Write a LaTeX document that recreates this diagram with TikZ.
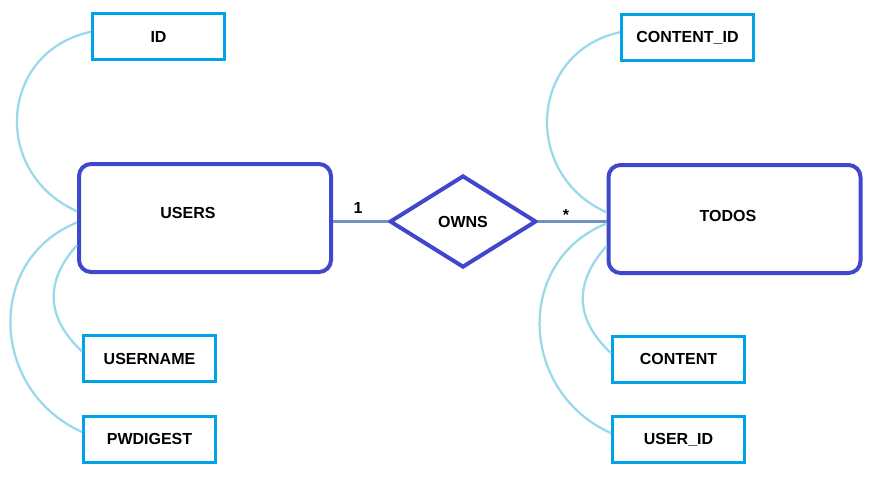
\documentclass[tikz,border=0pt]{standalone}
\usepackage{fontspec}
\setmainfont{Liberation Sans}
\usepackage{xcolor}
\definecolor{Col1}{RGB}{63,72,204}
\definecolor{Col2}{RGB}{0,162,232}
\definecolor{Col3}{RGB}{153,217,234}
\definecolor{Col4}{RGB}{112,146,190}
\usepackage{tikz}
\usetikzlibrary{shapes.geometric}
\tikzstyle{NodeST}=[font=\bfseries\fontsize{12}{14}\selectfont,
text height=8.6pt,text depth=0pt,inner sep=0pt]
\tikzstyle{Entity}=[rectangle,rounded corners=9pt,draw=Col1,line width=3pt,
minimum width=189pt,minimum height=81pt,inner sep=0pt]
\tikzstyle{Attr}=[NodeST,rectangle,draw=Col2,line width=2.25pt,
minimum width=99pt,minimum height=34.5pt]
\tikzstyle{Rel}=[NodeST,diamond,draw=Col1,line width=3pt,
minimum width=110pt,minimum height=69pt]
\tikzstyle{Link}=[draw=Col3,line width=1.7pt]
\tikzstyle{Edge}=[draw=Col4,line width=2.25pt]

\begin{document}
\begin{tikzpicture}[x=.75pt,y=.75pt]
            \useasboundingbox(0,0)rectangle(879,-482);
            \node[Entity](users)at(205,-218){};
            \node[Entity](todos)at(734.5,-219){};
            \node[NodeST](usersT)at(188,-213){USERS};
            \node[NodeST](todosT)at(728,-216){TODOS};
            \node[Rel](owns)at(463,-221.5){OWNS};
            \node[Attr](id)at(158.5,-36.5){ID};
            \node[Attr](uname)at(149.5,-358.5){USERNAME};
            \node[Attr](pw)at(149.5,-439){PWDIGEST};
            \node[Attr](cid)at(687.5,-37){CONTENT\_ID};
            \node[Attr](content)at(678.5,-359){CONTENT};
            \node[Attr](uid)at(678.5,-439){USER\_ID};
            \node[NodeST](one)at(358,-207.5){1};
            \node[NodeST](many)at(566,-215){*};
            \draw[Edge](owns.west)--(owns.west-|users.east);
            \draw[Edge](owns.east)--(owns.east-|todos.west);
            \draw[Link](id.176)to[out=192,in=156,looseness=1.34](users.177);
            \draw[Link](users.182)to[out=202,in=156,looseness=1.22](pw.174);
            \draw[Link](users.192)to[out=228,in=137,looseness=1.18](uname.174);
            \draw[Link](cid.176)to[out=192,in=156,looseness=1.32](todos.177);
            \draw[Link](todos.182)to[out=202,in=156,looseness=1.22](uid.175);
            \draw[Link](todos.192)to[out=228,in=137,looseness=1.18](content.175);
        \end{tikzpicture}
\end{document}
